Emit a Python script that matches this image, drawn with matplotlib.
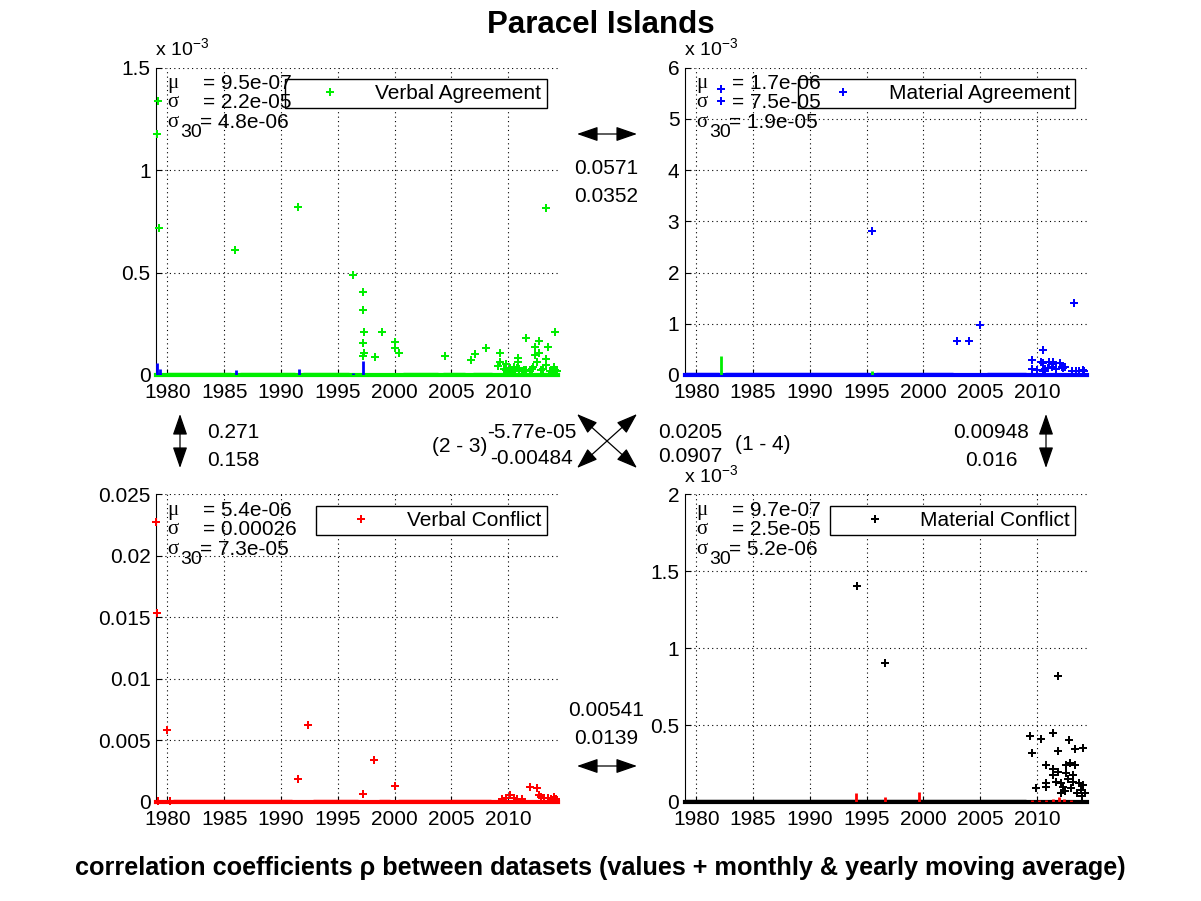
import matplotlib
matplotlib.use("Agg")
import matplotlib.pyplot as plt
from matplotlib.patches import FancyArrowPatch

plt.rcParams["font.family"] = ["Liberation Sans", "DejaVu Sans"]
plt.rcParams["mathtext.fontset"] = "custom"
plt.rcParams["mathtext.rm"] = "Liberation Sans"
plt.rcParams["mathtext.it"] = "Liberation Sans:italic"
plt.rcParams["mathtext.bf"] = "Liberation Sans:bold"

FS = 15
XLIM = (1979.0, 2014.4)
XTICKS = [1980, 1985, 1990, 1995, 2000, 2005, 2010]

# ---- Verbal Agreement (x 1e-3) ----
va_x = [1979.09, 1979.18, 1979.26, 1985.97, 1991.53, 1996.35, 1997.24, 1997.24,
        1997.29, 1997.24, 1997.29, 1997.24, 1998.24, 1998.91, 2000.06, 2000.06,
        2000.41, 2004.47, 2006.76, 2007.10, 2008.07, 2009.30, 2009.30, 2009.10,
        2009.85, 2009.85, 2010.15, 2010.90, 2010.90, 2010.75, 2010.60, 2011.60,
        2011.60, 2012.40, 2012.40, 2012.70, 2012.70, 2012.50, 2012.20, 2013.50,
        2013.35, 2013.35, 2013.35, 2014.00, 2014.17, 2014.15, 2009.60, 2010.00,
        2010.30, 2010.50, 2011.00, 2011.20, 2011.40, 2011.90, 2012.10, 2012.90,
        2013.10, 2013.70, 2013.90, 2014.30]
va_y = [1.176, 1.337, 0.717, 0.609, 0.819, 0.487, 0.404, 0.316,
        0.210, 0.155, 0.109, 0.093, 0.086, 0.208, 0.160, 0.130,
        0.109, 0.093, 0.072, 0.101, 0.132, 0.106, 0.064, 0.044,
        0.054, 0.024, 0.033, 0.085, 0.065, 0.033, 0.024, 0.179,
        0.024, 0.135, 0.096, 0.168, 0.106, 0.064, 0.041, 0.135,
        0.813, 0.077, 0.049, 0.041, 0.208, 0.024, 0.030, 0.020,
        0.015, 0.040, 0.030, 0.020, 0.025, 0.020, 0.030, 0.025,
        0.030, 0.020, 0.015, 0.020]

# ---- Material Agreement (x 1e-3) ----
ma_x = [1982.2, 1982.2, 1995.45, 2003.0, 2004.04, 2004.98, 2009.56, 2009.56,
        2010.0, 2010.53, 2010.38, 2010.53, 2010.75, 2010.53, 2011.1, 2010.95,
        2011.45, 2011.45, 2011.3, 2012.05, 2012.25, 2012.5, 2013.22, 2013.1,
        2013.4, 2013.7, 2014.09, 2014.15, 2011.7, 2012.3]
ma_y = [5.58, 5.34, 2.81, 0.66, 0.66, 0.97, 0.29, 0.12,
        0.10, 0.48, 0.26, 0.23, 0.11, 0.07, 0.26, 0.13,
        0.26, 0.21, 0.16, 0.23, 0.16, 0.16, 1.40, 0.085,
        0.085, 0.085, 0.10, 0.07, 0.12, 0.13]

# ---- Verbal Conflict ----
vc_x = [1979.0, 1979.06, 1980.0, 1991.46, 1992.34, 1997.18, 1998.15, 2000.0,
        2011.9, 2012.58, 2010.2, 2014.0, 2009.5, 2009.8, 2010.5, 2010.8,
        2011.2, 2012.7, 2012.9, 2013.2, 2013.5, 2013.8, 2014.2, 1979.2, 1980.2]
vc_y = [0.02278, 0.01538, 0.00588, 0.0019, 0.00628, 0.00068, 0.00344, 0.00133,
        0.00125, 0.00116, 0.00054, 0.00043, 0.0002, 0.0003, 0.0003, 0.00025,
        0.0002, 0.0006, 0.0004, 0.0003, 0.0003, 0.0002, 0.0002, 0.0001, 0.0001]

# ---- Material Conflict (x 1e-3) ----
mc_x = [1994.17, 1996.60, 2011.84, 2009.39, 2009.56, 2009.90, 2010.35, 2010.79,
        2010.79, 2010.79, 2011.40, 2011.40, 2011.40, 2011.84, 2011.84, 2011.66,
        2012.10, 2012.10, 2012.55, 2012.55, 2012.80, 2012.88, 2013.20, 2013.36,
        2013.33, 2014.03, 2013.20, 2012.30, 2012.45, 2012.70, 2013.00, 2013.50,
        2013.70, 2013.85, 2014.10, 2014.25, 2013.95]
mc_y = [1.404, 0.902, 0.817, 0.426, 0.315, 0.093, 0.407, 0.243,
        0.126, 0.098, 0.446, 0.213, 0.178, 0.333, 0.196, 0.130,
        0.120, 0.060, 0.239, 0.185, 0.400, 0.250, 0.178, 0.243,
        0.341, 0.348, 0.130, 0.100, 0.070, 0.150, 0.090, 0.060,
        0.120, 0.080, 0.110, 0.060, 0.040]

# moving averages near zero: monthly level, segment starts / ends
va_mo_level = 0.012
va_mo_start = [1980.0, 1986.4, 1991.9, 2000.7, 2004.3, 2006.9]
va_mo_end = [1985.6, 1991.2, 1996.0, 2003.8, 2006.2, 2008.6]
va_other_x = [1979.1, 1979.3, 1986.0, 1991.6, 1996.3, 1997.2]
va_other_h = [0.06, 0.03, 0.025, 0.03, 0.01, 0.07]

ma_mo_level = 0.03
ma_mo_start = [1979.0, 1982.5, 1995.8, 2005.6]
ma_mo_end = [1982.0, 1995.2, 2002.6, 2009.0]
ma_other_x = [1982.2, 1995.5]
ma_other_h = [0.38, 0.08]

vc_mo_level = 0.00012
vc_mo_start = [1980.5, 1992.8, 1998.6, 2000.3]
vc_mo_end = [1991.0, 1996.8, 1999.6, 2008.5]
vc_other_x = []
vc_other_h = []

mc_mo_level = 0.012
mc_mo_start = [1979.0]
mc_mo_end = [2009.0]
mc_other_x = [1994.1, 1996.6, 1999.6, 2009.6, 2010.2, 2010.8, 2011.4, 2011.9, 2012.4, 2013.0]
mc_other_h = [0.055, 0.03, 0.065, 0.01, 0.015, 0.01, 0.02, 0.03, 0.02, 0.015]

panels = [
    dict(pos=[0.13, 0.5838, 0.3347, 0.3412], x=va_x, y=va_y, color="#00ee00",
         other="#0000ff", label="Verbal Agreement", ylim=(0, 1.5),
         yticks=[0, 0.5, 1, 1.5], yticklabels=["0", "0.5", "1", "1.5"],
         stats=("9.5e-07", "2.2e-05", "4.8e-06"), mult=True,
         lvl=va_mo_level, s=va_mo_start, e=va_mo_end, ox=va_other_x, oh=va_other_h),
    dict(pos=[0.5703, 0.5838, 0.3347, 0.3412], x=ma_x, y=ma_y, color="#0000ff",
         other="#00ee00", label="Material Agreement", ylim=(0, 6),
         yticks=[0, 1, 2, 3, 4, 5, 6], yticklabels=["0", "1", "2", "3", "4", "5", "6"],
         stats=("1.7e-06", "7.5e-05", "1.9e-05"), mult=True,
         lvl=ma_mo_level, s=ma_mo_start, e=ma_mo_end, ox=ma_other_x, oh=ma_other_h),
    dict(pos=[0.13, 0.11, 0.3347, 0.3412], x=vc_x, y=vc_y, color="#ff0000",
         other="#000000", label="Verbal Conflict", ylim=(0, 0.025),
         yticks=[0, 0.005, 0.01, 0.015, 0.02, 0.025],
         yticklabels=["0", "0.005", "0.01", "0.015", "0.02", "0.025"],
         stats=("5.4e-06", "0.00026", "7.3e-05"), mult=False,
         lvl=vc_mo_level, s=vc_mo_start, e=vc_mo_end, ox=vc_other_x, oh=vc_other_h),
    dict(pos=[0.5703, 0.11, 0.3347, 0.3412], x=mc_x, y=mc_y, color="#000000",
         other="#ff0000", label="Material Conflict", ylim=(0, 2),
         yticks=[0, 0.5, 1, 1.5, 2], yticklabels=["0", "0.5", "1", "1.5", "2"],
         stats=("9.7e-07", "2.5e-05", "5.2e-06"), mult=True,
         lvl=mc_mo_level, s=mc_mo_start, e=mc_mo_end, ox=mc_other_x, oh=mc_other_h),
]

fig = plt.figure(figsize=(12.01, 9.01), dpi=100)
SERIF = ["Liberation Serif", "DejaVu Serif"]

for p in panels:
    ax = fig.add_axes(p["pos"])
    ax.set_xlim(*XLIM)
    ax.set_ylim(*p["ylim"])
    ax.set_xticks(XTICKS)
    ax.set_xticklabels([str(t) for t in XTICKS])
    ax.set_yticks(p["yticks"])
    ax.set_yticklabels(p["yticklabels"])
    ax.tick_params(direction="in", length=4, labelsize=FS)
    ax.tick_params(axis="x", pad=6)
    ax.tick_params(axis="y", pad=4)
    ax.spines["top"].set_visible(False)
    ax.spines["right"].set_visible(False)
    ax.grid(True, color="k", linestyle=(0, (1, 3)), linewidth=0.8)
    ax.set_axisbelow(True)

    ylo, yhi = p["ylim"]
    # yearly (thick) and monthly (thin) moving averages
    ax.plot([XLIM[0], XLIM[1]], [ylo, ylo], color=p["color"], lw=3.0,
            clip_on=False, zorder=3)
    ax.hlines([p["lvl"]] * len(p["s"]), p["s"], p["e"], color=p["color"],
              lw=1.0, zorder=3)
    if p["ox"]:
        ax.vlines(p["ox"], 0, p["oh"], color=p["other"], lw=2, zorder=3)

    ax.plot(p["x"], p["y"], linestyle="none", marker="P", markersize=5.5,
            markeredgewidth=0, color=p["color"], label=p["label"], zorder=4,
            clip_on=False)

    leg = ax.legend(loc="upper right", fontsize=FS, borderaxespad=0.55,
                    handlelength=3.8, handletextpad=0.3, borderpad=0.25,
                    fancybox=False, framealpha=1, numpoints=1)
    leg.get_frame().set_edgecolor("k")
    leg.get_frame().set_linewidth(1.0)
    leg.set_zorder(5)

    mu, sd, sd30 = p["stats"]
    ax.text(0.027, 0.948, "μ", transform=ax.transAxes, fontsize=FS,
            family=SERIF, va="center", zorder=7)
    ax.text(0.117, 0.948, "= " + mu, transform=ax.transAxes, fontsize=FS,
            va="center", zorder=7)
    ax.text(0.027, 0.885, "σ", transform=ax.transAxes, fontsize=FS,
            family=SERIF, va="center", zorder=7)
    ax.text(0.117, 0.885, "= " + sd, transform=ax.transAxes, fontsize=FS,
            va="center", zorder=7)
    ax.text(0.027, 0.822, "σ", transform=ax.transAxes, fontsize=FS,
            family=SERIF, va="center", zorder=7)
    ax.text(0.060, 0.789, "30", transform=ax.transAxes, fontsize=FS - 1,
            va="center", zorder=7)
    ax.text(0.110, 0.822, "= " + sd30, transform=ax.transAxes, fontsize=FS,
            va="center", zorder=7)

    if p["mult"]:
        x0, y0 = p["pos"][0], p["pos"][1] + p["pos"][3]
        fig.text(x0 - 0.001, y0 + 12 / 901, r"x 10$^{-3}$", fontsize=FS - 1,
                 va="baseline", ha="left")

# titles
fig.text(0.5, 1 - 25 / 901, "Paracel Islands", fontsize=22.5, fontweight="bold",
         ha="center", va="center")
fig.text(0.5, 1 - 868 / 901,
         "correlation coefficients ρ between datasets (values + monthly & yearly moving average)",
         fontsize=18.2, fontweight="bold", ha="center", va="center")


def fx(px):
    return px / 1201


def fy(py):
    return 1 - py / 901


def arrow(p0, p1):
    a = FancyArrowPatch((fx(p0[0]), fy(p0[1])), (fx(p1[0]), fy(p1[1])),
                        transform=fig.transFigure,
                        arrowstyle="<|-|>,head_length=1.3,head_width=0.45",
                        mutation_scale=10, color="k", lw=0.9,
                        shrinkA=0, shrinkB=0)
    fig.add_artist(a)


def label(px, py, s, ha="left"):
    fig.text(fx(px), fy(py), s, fontsize=FS, ha=ha, va="center")


# 1 - 2
arrow((577, 134), (637, 134))
label(606, 169, "0.0571", ha="center")
label(606, 196, "0.0352", ha="center")
# 3 - 4
label(606, 711, "0.00541", ha="center")
label(606, 738, "0.0139", ha="center")
arrow((577, 766), (637, 766))
# 1 - 3
arrow((180, 414), (180, 468))
label(207, 433, "0.271")
label(207, 460, "0.158")
# 2 - 4
arrow((1046, 414), (1046, 468))
label(991, 433, "0.00948", ha="center")
label(991, 460, "0.016", ha="center")
# diagonals
arrow((577, 414), (637, 468))
arrow((577, 468), (637, 414))
label(432, 447, "(2 - 3)")
label(487, 432, "-5.77e-05")
label(490, 459, "-0.00484")
label(658, 432, "0.0205")
label(658, 457, "0.0907")
label(735, 445, "(1 - 4)")

fig.savefig("out.png", dpi=100)
